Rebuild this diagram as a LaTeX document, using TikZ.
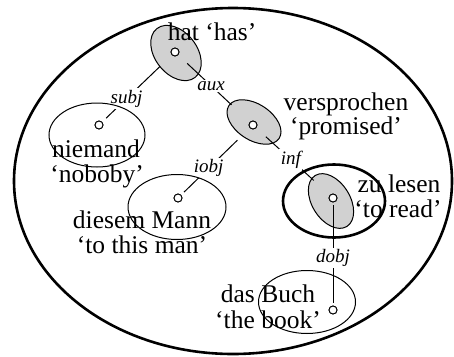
\documentclass[tikz,border=0pt]{standalone}
\usepackage{fontspec}
\setmainfont{Liberation Serif}
\usetikzlibrary{shapes.geometric}
\begin{document}
\begin{tikzpicture}[x=1pt,y=-1pt,
  word/.style={font=\fontsize{25.5}{26}\selectfont, inner sep=0pt, anchor=base},
  rel/.style={font=\fontsize{19}{19}\selectfont\itshape, fill=white, inner sep=1.5pt},
  dot/.style={circle, draw, fill=white, minimum size=8pt, inner sep=0pt, line width=0.9pt},
  blob/.style={ellipse, draw, fill=black!18, inner sep=0pt, line width=1pt},
  phrasebox/.style={ellipse, draw, inner sep=0pt, line width=1pt},
  thickbox/.style={ellipse, draw, inner sep=0pt, line width=2.6pt},
  dep/.style={line width=1pt}]
\useasboundingbox (0,0) rectangle (454,356);
% outer domain
\node[thickbox, minimum width=438pt, minimum height=346pt] (outer) at (233,181) {};
% shaded blobs
\node[blob, minimum width=62pt, minimum height=42pt, rotate=-52] (hatblob) at (176,53) {};
\node[blob, minimum width=60pt, minimum height=36pt, rotate=-33] (versblob) at (254,122) {};
\node[blob, minimum width=60pt, minimum height=38pt, rotate=-58] (zublob) at (331,201) {};
% dots
\coordinate (hatc) at (175,52);
\coordinate (versc) at (253,125);
\coordinate (zuc) at (333,198);
\coordinate (niemc) at (99,125);
\coordinate (diesc) at (178,198);
\coordinate (buchc) at (333,310);
\node[dot] (hat) at (hatc) {};
\node[dot] (vers) at (versc) {};
\node[dot] (zu) at (zuc) {};
\node[dot] (niem) at (niemc) {};
\node[dot] (dies) at (diesc) {};
\node[dot] (buch) at (buchc) {};
% dependencies
\draw[dep, shorten <=16.6pt, shorten >=5.4pt] (hat) -- node[rel, pos=0.65]{subj} (niem);
\draw[dep, shorten <=12.3pt, shorten >=25pt] (hat) -- node[rel, pos=0.46]{aux} (vers);
\draw[dep, shorten <=17.3pt, shorten >=4pt] (vers) -- node[rel, pos=0.60]{iobj} (dies);
\draw[dep, shorten <=13pt, shorten >=21.6pt] (vers) -- node[rel, pos=0.47]{inf} (zu);
\draw[dep, shorten <=3pt, shorten >=3pt] (zu) -- node[rel, pos=0.54]{dobj} (buch);
% unshaded domains
\node[phrasebox, minimum width=96pt, minimum height=64pt] (niemdom) at (97,135) {};
\node[phrasebox, minimum width=98pt, minimum height=65pt] (diesdom) at (177,207) {};
\node[phrasebox, minimum width=97pt, minimum height=63pt] (buchdom) at (307,302) {};
\node[thickbox, minimum width=102pt, minimum height=73pt] (zudom) at (334,201) {};
% redraw dots on top
\node[dot] at (hatc) {};
\node[dot] at (versc) {};
\node[dot] at (zuc) {};
\node[dot] at (niemc) {};
\node[dot] at (diesc) {};
\node[dot] at (buchc) {};
% words
\node[word] (t1) at (212,40) {hat ‘has’};
\node[word] (t2) at (96,157) {niemand};
\node[word] (t3) at (97,182) {‘noboby’};
\node[word] (t4) at (346,110) {versprochen};
\node[word] (t5) at (346,134) {‘promised’};
\node[word] (t6) at (142,228) {diesem Mann};
\node[word] (t7) at (142,253) {‘to this man’};
\node[word] (t8) at (399,192) {zu lesen};
\node[word] (t9) at (398,217) {‘to read’};
\node[word] (t10) at (268,302) {das Buch};
\node[word] (t11) at (268,328) {‘the book’};
\end{tikzpicture}
\end{document}
